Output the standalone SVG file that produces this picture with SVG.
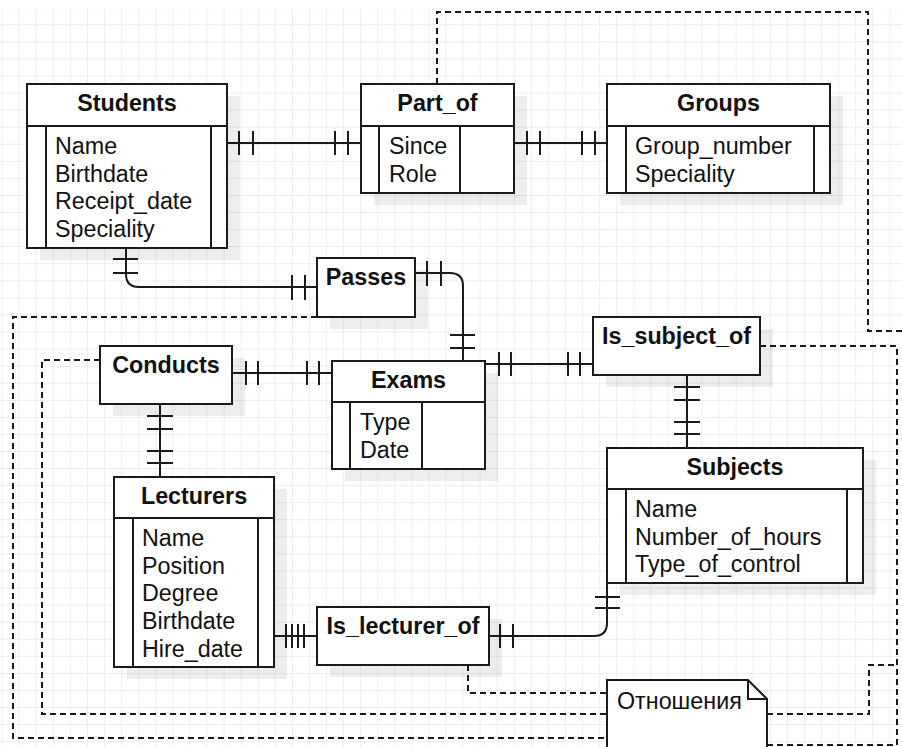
<svg xmlns="http://www.w3.org/2000/svg" width="902" height="747" viewBox="0 0 902 747">
  <defs>
    <pattern id="grid" patternUnits="userSpaceOnUse" x="1.7" y="7.2" width="17.07" height="17.07">
      <path d="M0,0 H17.07 M0,0 V17.07" fill="none" stroke="#e6e6e6" stroke-width="1.3"/>
    </pattern>
    <style>
      .box { fill: #ffffff; stroke: #1a1a1a; stroke-width: 2; }
      .sep { fill: none; stroke: #1a1a1a; stroke-width: 2; }
      .shadow { fill: #000000; opacity: 0.07; }
      .title { font-family: "Liberation Sans", Arial, sans-serif; font-size: 23.3px; font-weight: bold; fill: #111111; text-anchor: middle; }
      .attr { font-family: "Liberation Sans", Arial, sans-serif; font-size: 23.3px; fill: #111111; }
      .link { fill: none; stroke: #1a1a1a; stroke-width: 2; }
      .dash { fill: none; stroke: #1a1a1a; stroke-width: 2; stroke-dasharray: 6 4; }
    </style>
  </defs>

  <!-- canvas -->
  <rect x="0" y="0" width="902" height="747" fill="#ffffff"/>
  <rect x="0" y="8" width="902" height="739" fill="url(#grid)"/>

  <!-- dashed note links -->
  <g id="note-links">
    <path class="dash" d="M437,84 V12 H868 V331 H902"/>
    <path class="dash" d="M760,346 H897 V745 H767"/>
    <path class="dash" d="M317,317 H13 V738 H607"/>
    <path class="dash" d="M100,360 H42 V714 H607"/>
    <path class="dash" d="M468,665 V693 H607"/>
    <path class="dash" d="M767,714 H869 V665 H897"/>
  </g>

  <!-- relationship connectors with cardinality ticks -->
  <g id="connectors">
    <!-- Students - Part_of -->
    <path class="link" d="M227,143 H361 M239,131 V155 M253,131 V155 M335,131 V155 M348,131 V155"/>
    <!-- Part_of - Groups -->
    <path class="link" d="M514,143 H607 M527,131 V155 M540,131 V155 M582,131 V155 M595,131 V155"/>
    <!-- Students - Passes -->
    <path class="link" d="M126,248 V274 Q126,287 139,287 H317 M113,259 H138 M113,273 H138 M292,275 V300 M305,275 V300"/>
    <!-- Passes - Exams -->
    <path class="link" d="M415,273 H450 Q463,273 463,286 V361 M427,261 V286 M441,261 V286 M450,335 H475 M450,348 H475"/>
    <!-- Conducts - Exams -->
    <path class="link" d="M232,373 H332 M246,361 V385 M258,361 V385 M307,361 V385 M319,361 V385"/>
    <!-- Exams - Is_subject_of -->
    <path class="link" d="M485,364 H593 M499,352 V376 M511,352 V376 M568,352 V376 M580,352 V376"/>
    <!-- Is_subject_of - Subjects -->
    <path class="link" d="M687,375 V448 M674,387 H700 M674,400 H700 M674,422 H700 M674,434 H700"/>
    <!-- Conducts - Lecturers -->
    <path class="link" d="M160,404 V477 M147,416 H173 M147,429 H173 M147,451 H173 M147,463 H173"/>
    <!-- Lecturers - Is_lecturer_of -->
    <path class="link" d="M274,636 H317 M286,624 V648 M292,624 V648 M298,624 V648 M304,624 V648"/>
    <!-- Is_lecturer_of - Subjects -->
    <path class="link" d="M489,636 H594 Q607,636 607,623 V583 M500,624 V648 M513,624 V648 M595,597 H620 M595,608 H620"/>
  </g>

  <!-- entities -->
  <g id="students">
    <rect class="shadow" x="40" y="96" width="200" height="164"/>
    <rect class="box" x="27" y="84" width="200" height="164"/>
    <path class="sep" d="M27,126 H227 M46,126 V248 M211,126 V248"/>
    <text class="title" x="127" y="111">Students</text>
    <text class="attr" x="55" y="154">Name</text>
    <text class="attr" x="55" y="181.6">Birthdate</text>
    <text class="attr" x="55" y="209.3">Receipt_date</text>
    <text class="attr" x="55" y="237">Speciality</text>
  </g>

  <g id="part-of">
    <rect class="shadow" x="374" y="96" width="153" height="109"/>
    <rect class="box" x="361" y="84" width="153" height="109"/>
    <path class="sep" d="M361,126 H514 M379,126 V193 M460,126 V193"/>
    <text class="title" x="437.5" y="111">Part_of</text>
    <text class="attr" x="389" y="154">Since</text>
    <text class="attr" x="389" y="181.6">Role</text>
  </g>

  <g id="groups">
    <rect class="shadow" x="620" y="96" width="223" height="109"/>
    <rect class="box" x="607" y="84" width="223" height="109"/>
    <path class="sep" d="M607,126 H830 M626,126 V193 M814,126 V193"/>
    <text class="title" x="718.5" y="111">Groups</text>
    <text class="attr" x="635" y="154">Group_number</text>
    <text class="attr" x="635" y="181.6">Speciality</text>
  </g>

  <g id="exams">
    <rect class="shadow" x="345" y="373" width="153" height="108"/>
    <rect class="box" x="332" y="361" width="153" height="108"/>
    <path class="sep" d="M332,402 H485 M350,402 V469 M422,402 V469"/>
    <text class="title" x="408.5" y="388">Exams</text>
    <text class="attr" x="360" y="430">Type</text>
    <text class="attr" x="360" y="457.6">Date</text>
  </g>

  <g id="subjects">
    <rect class="shadow" x="620" y="460" width="256" height="135"/>
    <rect class="box" x="607" y="448" width="256" height="135"/>
    <path class="sep" d="M607,489 H863 M626,489 V583 M847,489 V583"/>
    <text class="title" x="735" y="475">Subjects</text>
    <text class="attr" x="635" y="517">Name</text>
    <text class="attr" x="635" y="544.6">Number_of_hours</text>
    <text class="attr" x="635" y="572.3">Type_of_control</text>
  </g>

  <g id="lecturers">
    <rect class="shadow" x="127" y="489" width="160" height="190"/>
    <rect class="box" x="114" y="477" width="160" height="190"/>
    <path class="sep" d="M114,518 H274 M133,518 V667 M258,518 V667"/>
    <text class="title" x="194" y="504">Lecturers</text>
    <text class="attr" x="142" y="546">Name</text>
    <text class="attr" x="142" y="573.7">Position</text>
    <text class="attr" x="142" y="601.4">Degree</text>
    <text class="attr" x="142" y="629">Birthdate</text>
    <text class="attr" x="142" y="656.8">Hire_date</text>
  </g>

  <!-- relationships -->
  <g id="passes">
    <rect class="shadow" x="330" y="270" width="98" height="59"/>
    <rect class="box" x="317" y="258" width="98" height="59"/>
    <text class="title" x="366" y="285">Passes</text>
  </g>

  <g id="conducts">
    <rect class="shadow" x="113" y="358" width="132" height="58"/>
    <rect class="box" x="100" y="346" width="132" height="58"/>
    <text class="title" x="166" y="373">Conducts</text>
  </g>

  <g id="is-subject-of">
    <rect class="shadow" x="606" y="329" width="167" height="58"/>
    <rect class="box" x="593" y="317" width="167" height="58"/>
    <text class="title" x="676.5" y="344">Is_subject_of</text>
  </g>

  <g id="is-lecturer-of">
    <rect class="shadow" x="330" y="619" width="172" height="58"/>
    <rect class="box" x="317" y="607" width="172" height="58"/>
    <text class="title" x="403" y="634">Is_lecturer_of</text>
  </g>

  <!-- note -->
  <g id="note">
    <path class="box" d="M607,680 H748 L767,699 V760 H607 Z"/>
    <path class="sep" d="M748,680 V699 H767"/>
    <text class="attr" x="617" y="709">Отношения</text>
  </g>
</svg>
